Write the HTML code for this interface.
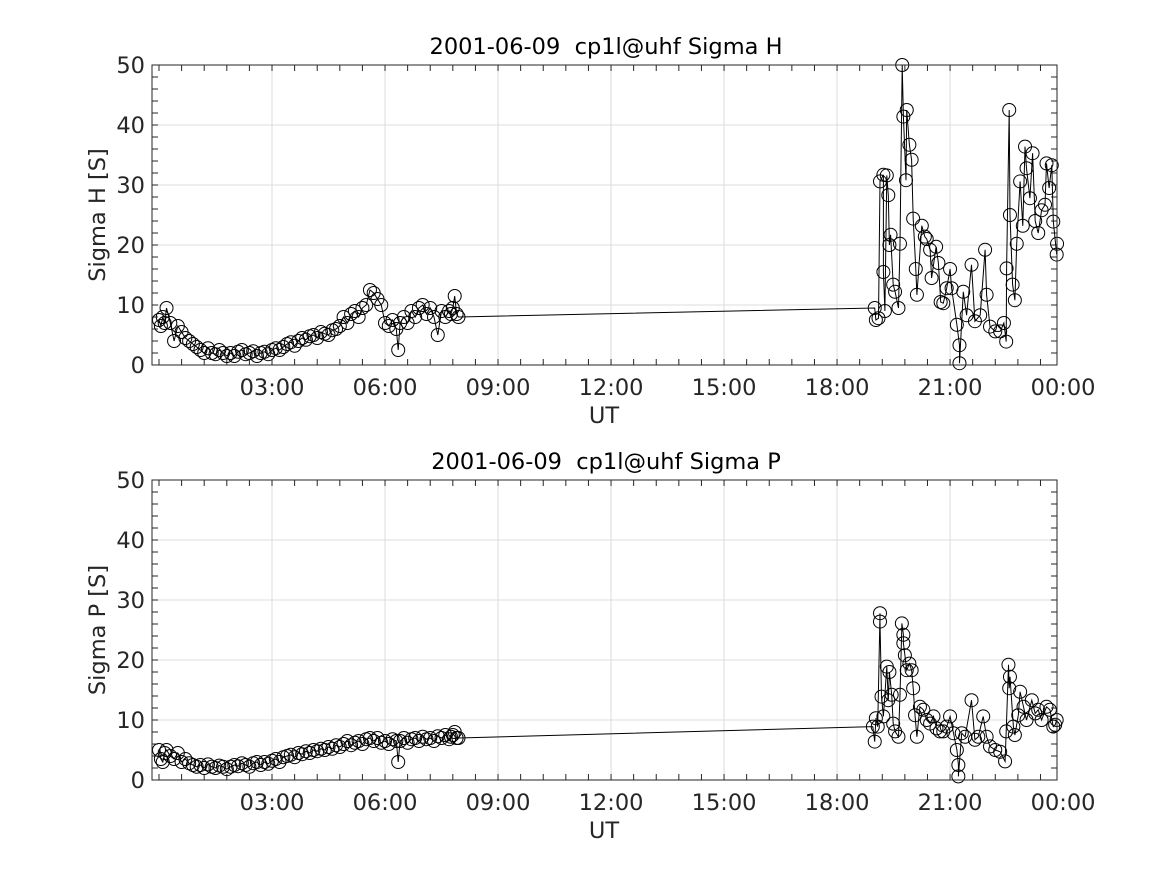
<!DOCTYPE html>
<html><head><meta charset="utf-8"><style>
body{margin:0;background:#fff;}
svg{display:block;font-family:"DejaVu Sans","Liberation Sans",sans-serif;}
</style></head><body>
<svg id="chart" width="1167" height="875" viewBox="0 0 1167 875" xmlns="http://www.w3.org/2000/svg"></svg>
<script>
const xTickHours=[3,6,9,12,15,18,21,24];
const xTickLabels=["03:00","06:00","09:00","12:00","15:00","18:00","21:00","00:00"];
const yTicks=[0,10,20,30,40,50];
const titles=["2001-06-09\u00a0\u00a0cp1l@uhf Sigma H","2001-06-09\u00a0\u00a0cp1l@uhf Sigma P"];
const yLabels=["Sigma H [S]","Sigma P [S]"];
const earlyHours=[0,0.05,0.1,0.15,0.2,0.3,0.4,0.5,0.6,0.7,0.8,0.9,1.0,1.1,1.2,1.3,1.4,1.5,1.6,1.7,1.8,1.9,2.0,2.1,2.2,2.3,2.4,2.5,2.6,2.7,2.8,2.9,3.0,3.1,3.2,3.3,3.4,3.5,3.6,3.7,3.8,3.9,4.0,4.1,4.2,4.3,4.4,4.5,4.6,4.7,4.8,4.9,5.0,5.1,5.2,5.3,5.4,5.5,5.6,5.7,5.8,5.9,6.0,6.1,6.2,6.3,6.35,6.4,6.5,6.6,6.7,6.8,6.9,7.0,7.1,7.2,7.3,7.4,7.5,7.6,7.7,7.75,7.8,7.85,7.9,7.95];
const earlyH=[7.5,6.5,8,7,9.5,7,4,6.5,5.5,4.5,4,3.5,3,2.5,2,2.8,2,1.8,2.5,2,1.5,2,1.5,2.2,2.5,1.8,2,2.3,1.5,2,2.2,1.8,2.5,2.8,2.5,3,3.5,3.8,3.2,4,4.5,4.2,4.8,5,4.5,5.5,5.2,5,5.8,6,6.5,8,7,8.5,9,8,9.5,10,12.5,12,11,10,7,6.5,7.5,6,2.5,7,8,7,9,8,9.5,10,8.5,9.5,8,5,9,8,9,8.5,9.5,11.5,8.5,8];
const earlyP=[5,3.5,3,4.5,5,4,3.5,4.5,3,3.5,2.8,2.5,2.2,2.5,2,2.6,2.2,2,2.4,2.2,1.8,2.2,2.5,2.3,2.8,2.5,2.2,2.8,3,2.5,3,2.7,3.2,3.5,3,3.8,4,4.2,3.8,4.5,4.3,4.8,4.5,5,4.8,5.2,5,5.5,5.2,5.8,5.5,6,6.5,5.8,6.2,6.5,6,6.8,7,6.5,7,6.2,6.5,6,6.8,6.5,3,6.5,7,6.2,6.8,7,6.5,7.2,6.8,7,6.5,7.3,7,7.5,6.8,7.2,7.5,8,7,7];
const lateHoursH=[19.0,19.03,19.10,19.14,19.23,19.23,19.27,19.32,19.36,19.39,19.42,19.49,19.54,19.63,19.67,19.73,19.76,19.83,19.85,19.92,19.98,20.02,20.09,20.12,20.25,20.33,20.38,20.47,20.51,20.63,20.69,20.75,20.82,20.91,21.00,21.04,21.18,21.25,21.25,21.35,21.44,21.57,21.66,21.80,21.93,21.97,22.06,22.20,22.33,22.43,22.49,22.50,22.57,22.59,22.66,22.72,22.77,22.86,22.93,22.99,23.03,23.12,23.19,23.26,23.34,23.43,23.52,23.56,23.63,23.70,23.74,23.83,23.84];
const lateH=[9.5,7.5,7.8,30.6,31.7,15.5,9,31.6,28.3,20,21.7,13.4,12.2,9.5,20.2,50,41.4,30.8,42.5,36.7,34.2,24.4,16,11.7,23.2,21.4,21,19.2,14.5,19.7,17,10.5,10.3,12.8,16,12.8,6.7,3.3,0.3,12.2,8.3,16.7,7.3,8.3,19.2,11.7,6.4,5.6,5.6,7,3.9,16.1,42.5,25,13.4,10.8,20.2,30.6,23.2,36.4,32.8,27.8,35.3,24,22,25.8,26.7,33.6,29.5,33.3,23.9,18.4,20.2];
const lateHoursP=[18.95,19.0,19.03,19.08,19.14,19.14,19.18,19.23,19.32,19.36,19.39,19.45,19.49,19.54,19.63,19.67,19.72,19.76,19.76,19.80,19.85,19.92,19.98,20.02,20.07,20.12,20.20,20.29,20.38,20.47,20.56,20.64,20.73,20.82,20.91,21.00,21.09,21.18,21.22,21.22,21.31,21.40,21.57,21.66,21.75,21.88,21.97,22.06,22.20,22.33,22.46,22.49,22.55,22.57,22.59,22.68,22.72,22.81,22.86,22.95,23.03,23.17,23.26,23.34,23.43,23.56,23.65,23.74,23.79,23.83];
const lateP=[8.9,6.4,10.3,8.9,27.8,26.4,13.9,10.6,18.9,13.3,18,14.2,9.4,8.1,7.2,14.2,26.1,24.2,22.8,20.8,18.3,19.4,18.3,15.3,10.8,7.2,12.2,11.7,10,9.4,10.6,8.6,8.1,8.1,8.9,10.6,7.8,5,2.5,0.6,7.8,7.2,13.3,6.7,7.2,10.6,7.2,5.6,5,4.7,3.1,8.1,19.2,15.3,17.2,8.9,7.5,10.8,14.7,12.2,10,13.3,11.1,11.7,10,12.2,11.7,8.9,9.2,10];

const NS="http://www.w3.org/2000/svg";
const svg=document.getElementById('chart');
const L=152,R=1057;
const FS=22.5;
function xScale(h){return 159+h*37.67;}
function mk(tag,attrs,parent){const e=document.createElementNS(NS,tag);for(const k in attrs)e.setAttribute(k,attrs[k]);(parent||svg).appendChild(e);return e;}

function drawPanel(idx,top,hours,vals){
  const bottom=top+300;
  const yScale=v=>bottom-v*6;
  const g=mk('g',{});
  
  
  xTickHours.forEach(h=>{const x=xScale(h);if(x<R){const l=mk('line',{x1:x,x2:x,y1:top,y2:bottom,stroke:'#dcdcdc','stroke-width':1},g);}});
  yTicks.forEach(v=>{const y=yScale(v);const l=mk('line',{x1:L,x2:R,y1:y,y2:y,stroke:'#dcdcdc','stroke-width':1},g);});
  let d='';
  for(let h=0;h<=24;h+=0.6){const x=xScale(h);if(x>L&&x<R){d+=`M${x} ${bottom}v-6M${x} ${top}v6`;}}
  for(let v=0;v<=50;v+=2){const y=yScale(v);d+=`M${L} ${y}h6M${R} ${y}h-6`;}
  const t=mk('path',{d:d,stroke:'#262626','stroke-width':1,fill:'none'},g);
  
  const pts=hours.map((h,i)=>xScale(h).toFixed(1)+','+yScale(vals[i]).toFixed(1)).join(' ');
  const pl=mk('polyline',{points:pts,fill:'none',stroke:'#000','stroke-width':1},g);
  
  hours.forEach((h,i)=>{const c=mk('circle',{cx:xScale(h),cy:yScale(vals[i]),r:6.5,fill:'none',stroke:'#000','stroke-width':1},g);
    
    });
  const box=mk('rect',{x:L,y:top,width:R-L,height:300,fill:'none',stroke:'#262626','stroke-width':1},g);
  
  xTickHours.forEach((h,i)=>{const tx=mk('text',{x:xScale(h),y:bottom+30,'text-anchor':'middle','font-size':FS,fill:'#262626'},g);tx.textContent=xTickLabels[i];
    });
  yTicks.forEach(v=>{const tx=mk('text',{x:L-7,y:yScale(v)+8,'text-anchor':'end','font-size':FS,fill:'#262626'},g);tx.textContent=v;
    });
  const ti=mk('text',{x:606,y:top-11,'text-anchor':'middle','font-size':FS,fill:'#000'},g);ti.textContent=titles[idx];
  
  const xl=mk('text',{x:604,y:bottom+58,'text-anchor':'middle','font-size':FS,fill:'#262626'},g);xl.textContent='UT';
  
  const yl=mk('text',{x:0,y:0,'text-anchor':'middle','font-size':FS,fill:'#262626',transform:`translate(105,${top+150}) rotate(-90)`},g);yl.textContent=yLabels[idx];
  
}
drawPanel(0,65,earlyHours.concat(lateHoursH),earlyH.concat(lateH));
drawPanel(1,480,earlyHours.concat(lateHoursP),earlyP.concat(lateP));
</script>
</body></html>
